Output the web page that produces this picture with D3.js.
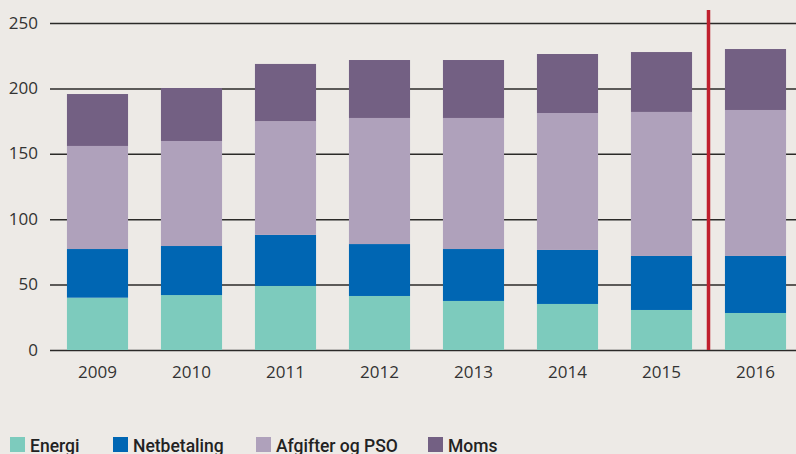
<!DOCTYPE html>
<html>
<head>
<meta charset="utf-8">
<script src="https://cdn.jsdelivr.net/npm/d3@7"></script>
<style>
  html, body { margin: 0; padding: 0; background: #edeae6; }
  svg { display: block; }
</style>
</head>
<body>
<script>
const years = ["2009", "2010", "2011", "2012", "2013", "2014", "2015", "2016"];
const energi = [40, 42, 49, 41.3, 37.5, 35.2, 30.6, 28.3];
const netbetaling = [37.2, 37.5, 39, 39.7, 39.7, 41.3, 41.3, 43.6];
const afgifter = [78.8, 80.3, 87, 96.4, 100.2, 104.7, 110.1, 111.6];
const moms = [39.7, 40.5, 43.7, 44.3, 44.3, 45.1, 45.8, 46.6];
const yTicks = [0, 50, 100, 150, 200, 250];
const seriesNames = ["Energi", "Netbetaling", "Afgifter og PSO", "Moms"];
const colors = ["#7dcbbd", "#0066b3", "#afa1bb", "#736083"];

const width = 796;
const height = 454;
const font = "'Open Sans', sans-serif";

const table = years.map((y, i) => ({
  year: y,
  Energi: energi[i],
  Netbetaling: netbetaling[i],
  "Afgifter og PSO": afgifter[i],
  Moms: moms[i]
}));

const svg = d3
  .select("body")
  .append("svg")
  .attr("width", width)
  .attr("height", height);

const xScale = d3
  .scaleBand()
  .domain(years)
  .range([50.5, 802.5])
  .paddingInner(0.35)
  .paddingOuter(0.175);

const yScale = d3.scaleLinear().domain([0, 250]).range([350, 23]);

// gridlines + y labels
const yAxis = d3
  .axisLeft(yScale)
  .tickValues(yTicks)
  .tickSize(-(width - 50))
  .tickPadding(12);

const gy = svg
  .append("g")
  .attr("transform", "translate(50, 0)")
  .call(yAxis);
gy.select(".domain").remove();
gy.selectAll(".tick line").attr("stroke", "#2b2a28").attr("stroke-width", 1.5);
gy.selectAll(".tick text")
  .attr("fill", "#333")
  .style("font-family", font)
  .style("font-size", "17px")
  .attr("dy", "0.3em");

// stacked bars
const stack = d3.stack().keys(seriesNames);
const stacked = stack(table);

svg
  .append("g")
  .selectAll("g")
  .data(stacked)
  .enter()
  .append("g")
  .attr("fill", (d, i) => colors[i])
  .selectAll("rect")
  .data((d) => d)
  .enter()
  .append("rect")
  .attr("x", (d) => xScale(d.data.year))
  .attr("width", xScale.bandwidth())
  .attr("y", (d) => yScale(d[1]))
  .attr("height", (d) => yScale(d[0]) - yScale(d[1]));

// x labels
const xAxis = d3.axisBottom(xScale).tickSize(0).tickPadding(16);
const gx = svg
  .append("g")
  .attr("transform", "translate(0, 350)")
  .call(xAxis);
gx.select(".domain").remove();
gx.selectAll(".tick text")
  .attr("fill", "#333")
  .style("font-family", font)
  .style("font-size", "17px");

// red separator between 2015 and 2016
const sepX = (xScale("2015") + xScale.bandwidth() + xScale("2016")) / 2;
svg
  .append("line")
  .attr("x1", sepX)
  .attr("x2", sepX)
  .attr("y1", yScale(0))
  .attr("y2", yScale(260))
  .attr("stroke", "#c0202e")
  .attr("stroke-width", 3.5);

// legend
const legendX = [10, 113, 256, 428];
const legend = svg
  .append("g")
  .selectAll("g")
  .data(seriesNames)
  .enter()
  .append("g")
  .attr("transform", (d, i) => `translate(${legendX[i]}, 437)`);

legend
  .append("rect")
  .attr("width", 15)
  .attr("height", 15)
  .attr("fill", (d, i) => colors[i]);

legend
  .append("text")
  .attr("x", 20)
  .attr("y", 14.5)
  .attr("fill", "#222")
  .style("font-family", "Roboto, sans-serif")
  .style("font-size", "17.5px")
  .style("font-weight", 500)
  .text((d) => d);
</script>
</body>
</html>
